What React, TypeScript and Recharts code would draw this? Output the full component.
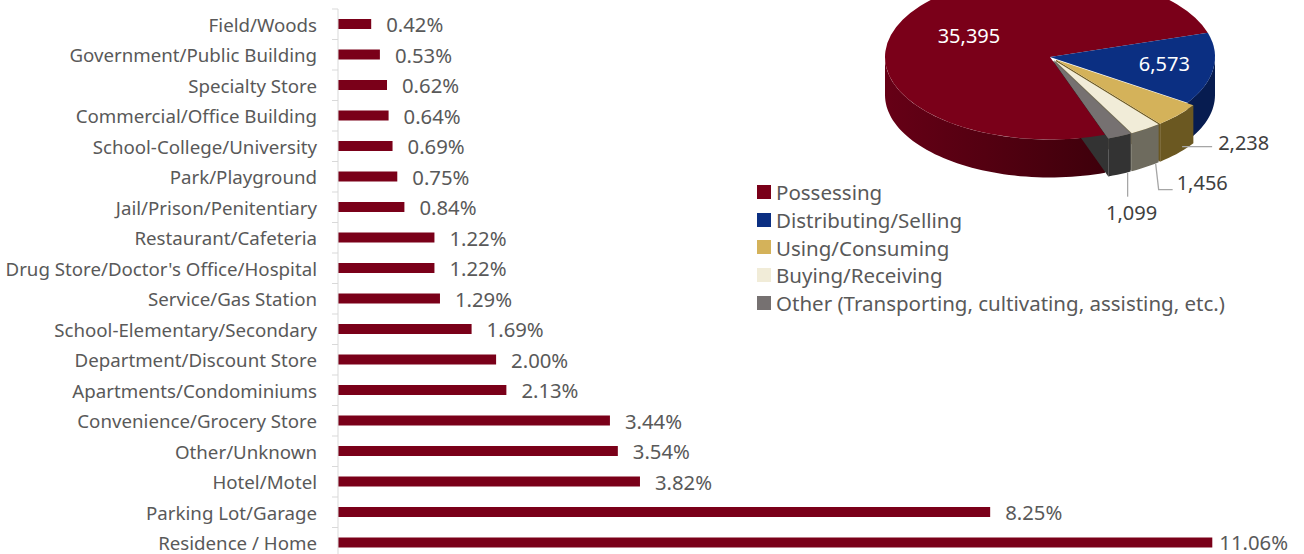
import React from 'react';
import { BarChart, Bar, XAxis, YAxis, LabelList, PieChart, Pie, Cell, Legend, Sector } from 'recharts';

const categories = [
  'Field/Woods',
  'Government/Public Building',
  'Specialty Store',
  'Commercial/Office Building',
  'School-College/University',
  'Park/Playground',
  'Jail/Prison/Penitentiary',
  'Restaurant/Cafeteria',
  "Drug Store/Doctor's Office/Hospital",
  'Service/Gas Station',
  'School-Elementary/Secondary',
  'Department/Discount Store',
  'Apartments/Condominiums',
  'Convenience/Grocery Store',
  'Other/Unknown',
  'Hotel/Motel',
  'Parking Lot/Garage',
  'Residence / Home',
];
const shares = [0.42, 0.53, 0.62, 0.64, 0.69, 0.75, 0.84, 1.22, 1.22, 1.29, 1.69, 2.0, 2.13, 3.44, 3.54, 3.82, 8.25, 11.06];

const pieNames = [
  'Possessing',
  'Distributing/Selling',
  'Using/Consuming',
  'Buying/Receiving',
  'Other (Transporting, cultivating, assisting, etc.)',
];
const pieValues = [35395, 6573, 2238, 1456, 1099];

const pieColors = ['#7A0019', '#0B2F82', '#D4B25A', '#F1ECD8', '#767171'];
const wallColors = ['#4E0010', '#071C50', '#6B5821', '#6E6B5E', '#333333'];
const explode = [0, 0, 8, 8, 8];

const barData = categories.map((name, i) => ({ name, value: shares[i] }));
const pieData = pieNames.map((name, i) => ({ name, value: pieValues[i] }));

const FONT = '"Noto Sans", sans-serif';
const TEXT = '#595959';
const BAR = '#7A0019';
const K = 0.5;
const DEPTH = 38;
const RAD = Math.PI / 180;

const PLOT_TOP = 9;
const PLOT_BOTTOM = 4;
const CHART_H = 562;
const STEP = (CHART_H - PLOT_TOP - PLOT_BOTTOM) / categories.length;

function CategoryTick(props: any) {
  const { x, y, payload } = props;
  const axisX = x + 21;
  return (
    <g>
      <line x1={axisX - 6} x2={axisX} y1={y - STEP / 2} y2={y - STEP / 2} stroke="#D9D9D9" />
      <text x={x} y={y} textAnchor="end" dominantBaseline="central" fontFamily={FONT} fontSize={18.7} fill={TEXT}>
        {payload.value}
      </text>
    </g>
  );
}

function ValueLabel(props: any) {
  const { x, y, width, height, value } = props;
  const isMax = value === Math.max(...shares);
  const off = isMax ? 7 : 15;
  return (
    <text x={x + width + off} y={y + height / 2 - (isMax ? 1 : 0)} dominantBaseline="central" fontFamily={FONT} fontSize={20.3} fill={TEXT}>
      {Number(value).toFixed(2) + '%'}
    </text>
  );
}

function pt(cx: number, cy: number, r: number, a: number, ox = 0, oy = 0) {
  return [cx + ox + r * Math.cos(a * RAD), cy + oy - r * Math.sin(a * RAD) * K];
}

function explodeOffset(i: number, mid: number) {
  const e = explode[i] || 0;
  return [e * Math.cos(mid * RAD), -e * Math.sin(mid * RAD) * K];
}

function idxOf(props: any) {
  const name = props?.payload?.name ?? props?.name;
  const i = pieNames.indexOf(name);
  return i < 0 ? 0 : i;
}

function WallShape(props: any) {
  const { cx, cy, outerRadius, startAngle, endAngle, fill } = props;
  const i = idxOf(props);
  const lo = Math.min(startAngle, endAngle);
  const hi = Math.max(startAngle, endAngle);
  const mid = (lo + hi) / 2;
  const [ox, oy] = explodeOffset(i, mid);
  const segs: number[][] = [];
  for (const [a, b] of [[-180, 0], [180, 360]]) {
    const s = Math.max(lo, a);
    const e = Math.min(hi, b);
    if (e > s) segs.push([s, e]);
  }
  const paint = i === 0 ? 'url(#wallRedGrad)' : fill;
  const faces: any[] = [];
  if (explode[i]) {
    const faceAt = (a: number) => {
      const [x1, y1] = pt(cx, cy, 0, a, ox, oy);
      const [x2, y2] = pt(cx, cy, outerRadius, a, ox, oy);
      return `M${x1},${y1}L${x2},${y2}L${x2},${y2 + DEPTH}L${x1},${y1 + DEPTH}Z`;
    };
    if (Math.cos(lo * RAD) > 0) faces.push(faceAt(lo));
    if (Math.cos(hi * RAD) < 0) faces.push(faceAt(hi));
  }
  return (
    <g>
      <defs>
        <linearGradient id="wallRedGrad" x1="0" y1="0" x2="1" y2="0">
          <stop offset="0%" stopColor="#660016" />
          <stop offset="100%" stopColor="#3E000B" />
        </linearGradient>
      </defs>
      {faces.map((d, k) => (
        <path key={'f' + k} d={d} fill={fill} stroke="none" />
      ))}
      {segs.map(([s, e], k) => {
        const n = Math.max(4, Math.ceil((e - s) / 2));
        const top: string[] = [];
        const bot: string[] = [];
        for (let j = 0; j <= n; j++) {
          const a = s + ((e - s) * j) / n;
          const [px, py] = pt(cx, cy, outerRadius, a, ox, oy);
          top.push(`${px},${py}`);
          bot.push(`${px},${py + DEPTH}`);
        }
        const d = 'M' + top.join('L') + 'L' + bot.reverse().join('L') + 'Z';
        return <path key={k} d={d} fill={paint} stroke="none" />;
      })}
    </g>
  );
}

function TopShape(props: any) {
  const { cx, cy, outerRadius, startAngle, endAngle, fill } = props;
  const i = idxOf(props);
  const mid = (startAngle + endAngle) / 2;
  const [ox, oy] = explodeOffset(i, mid);
  return (
    <g transform={`translate(${ox} ${oy}) translate(0 ${cy}) scale(1 ${K}) translate(0 ${-cy})`}>
      <Sector cx={cx} cy={cy} innerRadius={0} outerRadius={outerRadius} startAngle={startAngle} endAngle={endAngle} fill={fill} stroke="none" />
    </g>
  );
}

function PieLabel(props: any) {
  const { cx, cy, outerRadius, midAngle, value } = props;
  const i = idxOf(props);
  const txt = Number(value).toLocaleString('en-US');
  const [ox, oy] = explodeOffset(i, midAngle);
  if (i < 2) {
    const f = i === 0 ? 0.55 : 0.7;
    const [x, y] = pt(cx, cy, outerRadius * f, midAngle, ox, oy);
    return (
      <text x={x} y={y - (i === 1 ? 2 : 1)} textAnchor="middle" dominantBaseline="central" fontFamily={FONT} fontSize={20} fill="#FFFFFF">
        {txt}
      </text>
    );
  }
  const [ax, ay0] = pt(cx, cy, outerRadius, midAngle, ox, oy);
  const ay = ay0 + DEPTH * 0.75;
  let d = '';
  let tx = 0;
  let ty = 0;
  let anchor: 'start' | 'middle' = 'start';
  if (i === 2) {
    d = `M${ax + 4},${ay + 3}L${ax + 34},${ay + 3}`;
    tx = ax + 40;
    ty = ay - 1;
  } else if (i === 3) {
    d = `M${ax + 10},${ay + 6}L${ax + 13},${ay + 32}L${ax + 27},${ay + 32}`;
    tx = ax + 31;
    ty = ay + 25;
  } else {
    d = `M${ax + 8},${ay + 8}L${ax + 8},${ay + 32}`;
    tx = ax + 12;
    ty = ay + 48;
    anchor = 'middle';
  }
  return (
    <g>
      <path d={d} stroke="#A6A6A6" strokeWidth={1.3} fill="none" />
      <text x={tx} y={ty} textAnchor={anchor} dominantBaseline="central" fontFamily={FONT} fontSize={20} fill="#404040">
        {txt}
      </text>
    </g>
  );
}

function PieLegend() {
  return (
    <div style={{ fontFamily: FONT, fontSize: 20.5, color: TEXT, whiteSpace: 'nowrap' }}>
      {pieNames.map((n, i) => (
        <div key={n} style={{ display: 'flex', alignItems: 'center', height: 27.8 }}>
          <span style={{ display: 'inline-block', width: 14, height: 14, background: pieColors[i], marginRight: 5, flex: 'none' }} />
          <span>{n}</span>
        </div>
      ))}
    </div>
  );
}

export default function App() {
  const PIE_LEFT = 740;
  return (
    <div style={{ position: 'absolute', left: 0, top: 0, width: 1304, height: 554, overflow: 'hidden', background: '#fff' }}>
      <div style={{ position: 'absolute', left: 0, top: 0 }}>
        <BarChart
          width={1304}
          height={CHART_H}
          data={barData}
          layout="vertical"
          margin={{ top: PLOT_TOP, right: 0, bottom: PLOT_BOTTOM, left: 0 }}
          barCategoryGap={0}
        >
          <XAxis type="number" hide domain={[0, 12.22]} />
          <YAxis
            type="category"
            dataKey="name"
            width={338}
            axisLine={{ stroke: '#D9D9D9' }}
            tickLine={false}
            tickSize={6}
            tickMargin={15}
            interval={0}
            tick={<CategoryTick />}
          />
          <Bar dataKey="value" fill={BAR} barSize={10} isAnimationActive={false}>
            <LabelList dataKey="value" content={<ValueLabel />} />
          </Bar>
        </BarChart>
      </div>
      <div style={{ position: 'absolute', left: PIE_LEFT, top: 0 }}>
        <PieChart width={564} height={330} margin={{ top: 0, right: 0, bottom: 0, left: 0 }}>
          <Pie
            data={pieData}
            dataKey="value"
            nameKey="name"
            cx={310}
            cy={57}
            outerRadius={165}
            startAngle={289.5}
            endAngle={-70.5}
            isAnimationActive={false}
            shape={WallShape}
            inactiveShape={WallShape}
            activeShape={WallShape}
            stroke="none"
            legendType="none"
          >
            {pieData.map((d, i) => (
              <Cell key={d.name} fill={wallColors[i]} />
            ))}
          </Pie>
          <Pie
            data={pieData}
            dataKey="value"
            nameKey="name"
            cx={310}
            cy={57}
            outerRadius={165}
            startAngle={289.5}
            endAngle={-70.5}
            isAnimationActive={false}
            shape={TopShape}
            inactiveShape={TopShape}
            activeShape={TopShape}
            stroke="none"
            label={PieLabel}
            labelLine={false}
          >
            {pieData.map((d, i) => (
              <Cell key={d.name} fill={pieColors[i]} />
            ))}
          </Pie>
          <Legend
            layout="vertical"
            align="center"
            verticalAlign="middle"
            content={<PieLegend />}
            wrapperStyle={{ left: 17, top: 178, width: 'auto', height: 'auto' }}
          />
        </PieChart>
      </div>
    </div>
  );
}
